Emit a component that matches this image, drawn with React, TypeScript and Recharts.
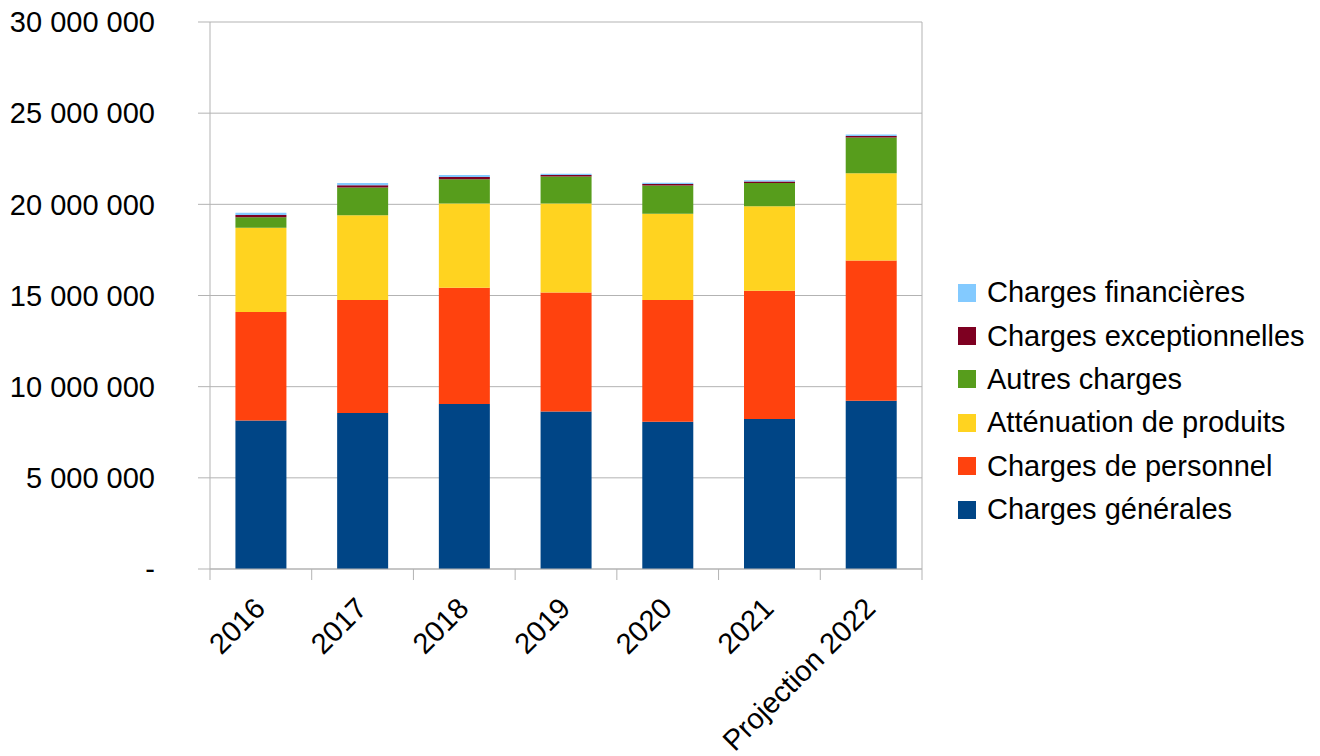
import { BarChart, Bar, XAxis, YAxis, CartesianGrid } from 'recharts';

const categories = ['2016', '2017', '2018', '2019', '2020', '2021', 'Projection 2022'];

// stacked from the bottom up
const chargesGenerales = [8150000, 8550000, 9050000, 8640000, 8080000, 8220000, 9230000];
const chargesPersonnel = [5950000, 6210000, 6370000, 6520000, 6680000, 7040000, 7690000];
const attenuationProduits = [4620000, 4640000, 4620000, 4880000, 4730000, 4630000, 4780000];
const autresCharges = [570000, 1530000, 1330000, 1480000, 1540000, 1280000, 1960000];
const chargesExceptionnelles = [120000, 110000, 130000, 90000, 90000, 80000, 90000];
const chargesFinancieres = [130000, 130000, 110000, 70000, 70000, 70000, 80000];

const yTicks = [0, 5000000, 10000000, 15000000, 20000000, 25000000, 30000000];

const SERIES = [
    { key: 'generales', name: 'Charges générales', color: '#004586', values: chargesGenerales },
    { key: 'personnel', name: 'Charges de personnel', color: '#ff420e', values: chargesPersonnel },
    { key: 'attenuation', name: 'Atténuation de produits', color: '#ffd320', values: attenuationProduits },
    { key: 'autres', name: 'Autres charges', color: '#579d1c', values: autresCharges },
    { key: 'exceptionnelles', name: 'Charges exceptionnelles', color: '#7e0021', values: chargesExceptionnelles },
    { key: 'financieres', name: 'Charges financières', color: '#83caff', values: chargesFinancieres },
];

const FONT = '"Liberation Sans", Arial, sans-serif';
const FONT_SIZE = 29;
const GRID = '#b3b3b3';

const data = categories.map((name, i) => {
    const row: Record<string, string | number> = { name };
    SERIES.forEach(s => { row[s.key] = s.values[i]; });
    return row;
});

const formatAmount = (v: number) =>
    v === 0 ? '-' : String(v).replace(/\B(?=(\d{3})+(?!\d))/g, ' ');

// category labels slanted at 45°, tick marks sit on the band boundaries
function CategoryTick(props: any) {
    const { x, y, payload } = props;
    const half = payload.offset ?? 0;
    const isLast = payload.value === categories[categories.length - 1];
    return (
        <g>
            <line x1={x - half} x2={x - half} y1={y} y2={y + 11} stroke={GRID} />
            {isLast && <line x1={x + half} x2={x + half} y1={y} y2={y + 11} stroke={GRID} />}
            <text
                x={x + 6}
                y={y + 41}
                textAnchor="end"
                transform={`rotate(-45, ${x + 6}, ${y + 41})`}
                fontSize={FONT_SIZE}
                fontFamily={FONT}
                fill="#000"
            >
                {payload.value}
            </text>
        </g>
    );
}

// legend lists the series top-down, in reverse stacking order
function LegendList() {
    return (
        <div style={{ position: 'absolute', left: 958, top: 271, fontFamily: FONT, fontSize: FONT_SIZE, color: '#000' }}>
            {[...SERIES].reverse().map(s => (
                <div key={s.key} style={{ display: 'flex', alignItems: 'center', height: 43.4 }}>
                    <div style={{ width: 18, height: 18, background: s.color, marginRight: 11 }} />
                    <span style={{ whiteSpace: 'nowrap' }}>{s.name}</span>
                </div>
            ))}
        </div>
    );
}

export default function App() {
    return (
        <div style={{ position: 'absolute', left: 0, top: 0, width: 1320, height: 756, background: '#fff' }}>
            <BarChart
                width={1320}
                height={756}
                data={data}
                margin={{ top: 22, right: 398, bottom: 0, left: 0 }}
                barCategoryGap="25%"
            >
                <CartesianGrid
                    stroke={GRID}
                    verticalCoordinatesGenerator={({ offset }: any) => [offset.left + offset.width]}
                />
                <XAxis
                    dataKey="name"
                    height={187}
                    tickSize={0}
                    tickMargin={0}
                    tickLine={false}
                    axisLine={{ stroke: GRID }}
                    interval={0}
                    tick={<CategoryTick />}
                />
                <YAxis
                    width={210}
                    domain={[0, 30000000]}
                    ticks={yTicks}
                    tickSize={12}
                    tickMargin={43}
                    axisLine={{ stroke: GRID }}
                    tickLine={{ stroke: GRID }}
                    tickFormatter={formatAmount}
                    tick={{ fill: '#000', fontSize: FONT_SIZE, fontFamily: FONT }}
                />
                {SERIES.map(s => (
                    <Bar key={s.key} dataKey={s.key} name={s.name} stackId="a" fill={s.color} isAnimationActive={false} />
                ))}
            </BarChart>
            <LegendList />
        </div>
    );
}
